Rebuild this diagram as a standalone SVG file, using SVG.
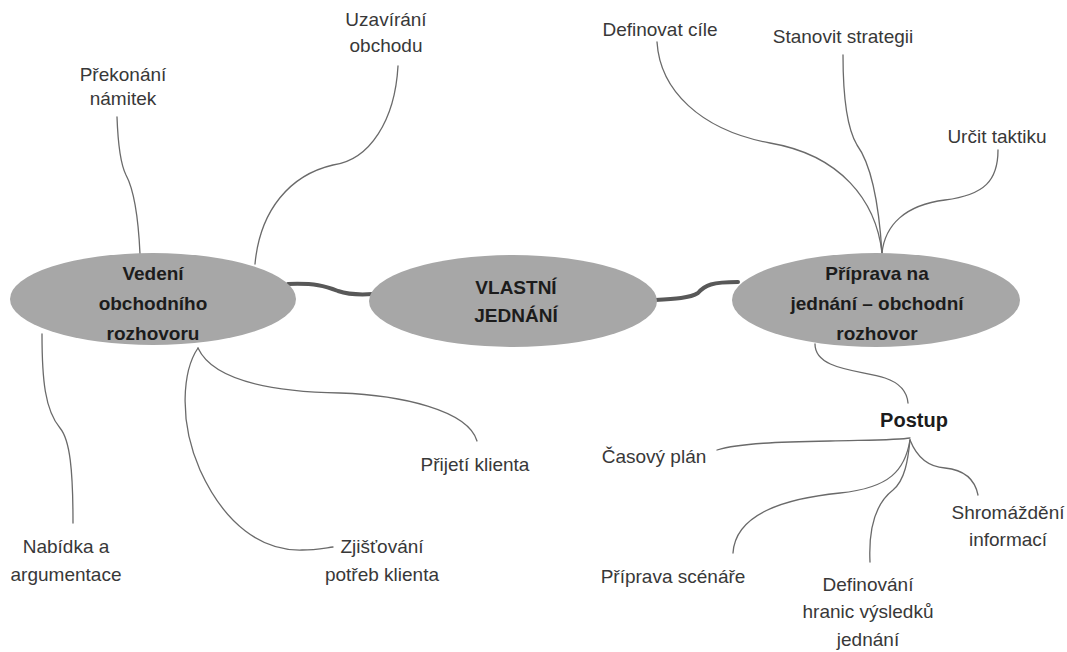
<svg xmlns="http://www.w3.org/2000/svg" width="1067" height="652" viewBox="0 0 1067 652">
  <style>
    .hub { fill: #a7a7a7; }
    .hubtxt { font-family: "Liberation Sans", Arial, sans-serif; font-size: 19px; font-weight: bold; fill: #1c1c1c; text-anchor: middle; }
    .lbl { font-family: "Liberation Sans", Arial, sans-serif; font-size: 19px; fill: #383838; text-anchor: middle; }
    .head { font-family: "Liberation Sans", Arial, sans-serif; font-size: 20px; font-weight: bold; fill: #1c1c1c; text-anchor: middle; }
    .thin { fill: none; stroke: #6a6a6a; stroke-width: 1.3; stroke-linecap: round; }
    .thick { fill: none; stroke: #585858; stroke-width: 4; stroke-linecap: round; }
  </style>

  <rect width="1067" height="652" fill="#ffffff"/>

  <g id="connectors">
    <!-- main chain between the three hubs -->
    <path class="thick" d="M288,284 C 315,283 325,286 338,291 C 350,295 360,295 373,294"/>
    <path class="thick" d="M655,300 C 675,299 690,298 698,293 C 705,285 712,282 738,282"/>

    <!-- branches of "Vedení obchodního rozhovoru" -->
    <path class="thin" d="M117,117 C 118,145 121,165 126,175 C 133,188 138,210 140,254"/>
    <path class="thin" d="M398,66 C 395,120 370,160 333,165 C 290,175 260,210 255,264"/>
    <path class="thin" d="M42,334 C 42,380 45,410 60,428 C 70,440 73,470 73,523"/>
    <path class="thin" d="M198,348 C 183,370 178,420 200,470 C 225,525 262,551 302,550 C 315,550 325,548 333,547"/>
    <path class="thin" d="M198,348 C 215,385 290,392 340,393 C 400,395 468,410 477,441"/>

    <!-- branches of "Příprava na jednání – obchodní rozhovor" -->
    <path class="thin" d="M657,42 C 660,90 700,130 770,143 C 840,155 876,200 882,253"/>
    <path class="thin" d="M843,55 C 843,100 848,130 857,145 C 868,160 878,190 882,253"/>
    <path class="thin" d="M998,150 C 998,180 985,195 945,200 C 905,205 885,225 882,253"/>
    <path class="thin" d="M815,344 C 815,370 860,370 885,378 C 900,383 907,392 908,403"/>

    <!-- branches of "Postup" -->
    <path class="thin" d="M717,450 C 740,443 780,442 830,441 C 870,440 900,440 910,438"/>
    <path class="thin" d="M733,553 C 735,520 770,500 840,493 C 890,488 905,470 910,440"/>
    <path class="thin" d="M870,562 C 868,520 880,500 893,490 C 905,480 908,460 910,440"/>
    <path class="thin" d="M910,440 C 918,460 930,467 945,468 C 965,470 975,480 978,495"/>
  </g>

  <g id="node-vedeni">
    <ellipse class="hub" cx="153" cy="299" rx="143" ry="46"/>
    <text class="hubtxt" x="153" y="280">Vedení</text>
    <text class="hubtxt" x="153" y="310">obchodního</text>
    <text class="hubtxt" x="153" y="340">rozhovoru</text>
  </g>

  <g id="node-vlastni">
    <ellipse class="hub" cx="513" cy="301" rx="144" ry="46"/>
    <text class="hubtxt" x="516" y="294">VLASTNÍ</text>
    <text class="hubtxt" x="516" y="322">JEDNÁNÍ</text>
  </g>

  <g id="node-priprava">
    <ellipse class="hub" cx="876" cy="300" rx="144" ry="47"/>
    <text class="hubtxt" x="877" y="280">Příprava na</text>
    <text class="hubtxt" x="877" y="310">jednání – obchodní</text>
    <text class="hubtxt" x="877" y="340">rozhovor</text>
  </g>

  <g id="node-prekonani">
    <text class="lbl" x="123" y="81">Překonání</text>
    <text class="lbl" x="123" y="105">námitek</text>
  </g>
  <g id="node-uzavirani">
    <text class="lbl" x="386" y="26">Uzavírání</text>
    <text class="lbl" x="386" y="52">obchodu</text>
  </g>
  <g id="node-nabidka">
    <text class="lbl" x="66" y="553">Nabídka a</text>
    <text class="lbl" x="66" y="581">argumentace</text>
  </g>
  <g id="node-zjistovani">
    <text class="lbl" x="382" y="553">Zjišťování</text>
    <text class="lbl" x="382" y="581">potřeb klienta</text>
  </g>
  <g id="node-prijeti">
    <text class="lbl" x="475" y="471">Přijetí klienta</text>
  </g>

  <g id="node-definovat">
    <text class="lbl" x="660" y="36">Definovat cíle</text>
  </g>
  <g id="node-stanovit">
    <text class="lbl" x="843" y="43">Stanovit strategii</text>
  </g>
  <g id="node-urcit">
    <text class="lbl" x="997" y="143">Určit taktiku</text>
  </g>

  <g id="node-postup">
    <text class="head" x="914" y="427">Postup</text>
  </g>
  <g id="node-casovy">
    <text class="lbl" x="654" y="463">Časový plán</text>
  </g>
  <g id="node-scenar">
    <text class="lbl" x="673" y="583">Příprava scénáře</text>
  </g>
  <g id="node-hranice">
    <text class="lbl" x="868" y="591">Definování</text>
    <text class="lbl" x="868" y="618">hranic výsledků</text>
    <text class="lbl" x="868" y="646">jednání</text>
  </g>
  <g id="node-shromazdeni">
    <text class="lbl" x="1008" y="519">Shromáždění</text>
    <text class="lbl" x="1008" y="546">informací</text>
  </g>
</svg>
